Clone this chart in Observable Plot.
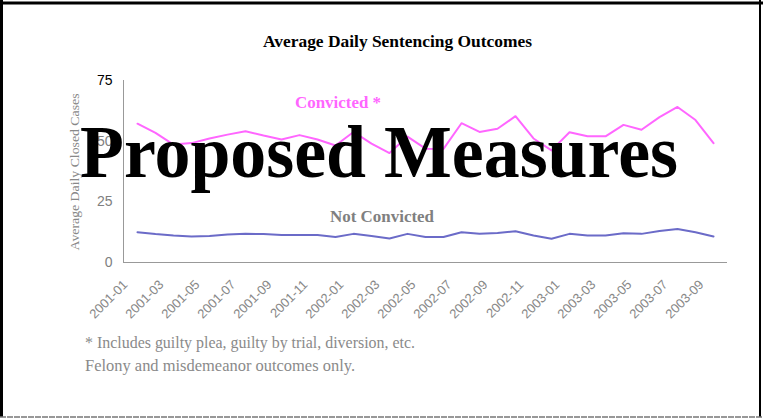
<!DOCTYPE html>
<html>
<head>
<meta charset="utf-8">
<script src="https://cdn.jsdelivr.net/npm/d3@7"></script>
<script src="https://cdn.jsdelivr.net/npm/@observablehq/plot@0.6"></script>
<style>
  html, body { margin: 0; padding: 0; background: #fff; }
  svg { display: block; }
</style>
</head>
<body>
<div id="chart"></div>
<script>
const months = ["2001-01","2001-02","2001-03","2001-04","2001-05","2001-06","2001-07","2001-08","2001-09","2001-10","2001-11","2001-12",
  "2002-01","2002-02","2002-03","2002-04","2002-05","2002-06","2002-07","2002-08","2002-09","2002-10","2002-11","2002-12",
  "2003-01","2003-02","2003-03","2003-04","2003-05","2003-06","2003-07","2003-08","2003-09"];
const convicted = [57.2,53.4,48.6,49.2,51.1,52.7,54.1,52.3,50.7,52.5,50.7,48.2,53.8,49.0,45.1,51.9,46.9,46.8,57.4,53.8,55.1,60.3,51.1,46.2,53.7,52.0,52.0,56.7,54.7,59.9,64.1,58.7,49.2];
const notConvicted = [12.5,11.7,11.1,10.7,10.9,11.5,11.8,11.7,11.3,11.3,11.3,10.5,11.8,10.9,9.9,11.8,10.5,10.5,12.5,11.8,12.2,12.9,11.1,9.8,11.8,11.1,11.1,12.1,11.8,13.0,13.8,12.5,10.7];
const tickLabels = months.filter((d, i) => i % 2 === 0);
const yTicks = [0, 25, 50, 75];

const W = 763, H = 419;
const sans = "Liberation Sans, Arial, sans-serif";
const serif = "Liberation Serif, Times New Roman, serif";

const svg = Plot.plot({
  width: W,
  height: H,
  marginLeft: 123,
  marginRight: 36,
  marginTop: 80,
  marginBottom: 157,
  style: { background: "#fff", fontFamily: sans },
  x: { type: "point", domain: months, padding: 0.5, axis: null },
  y: { domain: [0, 75], axis: null },
  marks: [
    Plot.frame({ anchor: "left", stroke: "#999" }),
    Plot.ruleY([0], { stroke: "#999" }),
    Plot.text(yTicks, {
      y: d => d, text: d => String(d), frameAnchor: "left", dx: -11, textAnchor: "end",
      fontSize: 14, fontFamily: sans, fill: d => d === 75 ? "#000" : "#808080"
    }),
    Plot.text(tickLabels, {
      x: d => d, text: d => d, frameAnchor: "bottom", dx: -12, dy: 20, rotate: -45,
      textAnchor: "end", lineAnchor: "middle", fontSize: 13, fontFamily: sans, fill: "#888"
    }),
    Plot.line(convicted, { x: (d, i) => months[i], y: d => d, stroke: "#FF66FF", strokeWidth: 2 }),
    Plot.line(notConvicted, { x: (d, i) => months[i], y: d => d, stroke: "#6B6BC8", strokeWidth: 2 })
  ]
});

document.getElementById("chart").appendChild(svg);
const s = d3.select(svg);

// outer frame
s.append("line").attr("x1", 0).attr("x2", W).attr("y1", 3).attr("y2", 3).attr("stroke", "#000").attr("stroke-width", 3);
s.append("line").attr("x1", 1.5).attr("x2", 1.5).attr("y1", 0).attr("y2", 417).attr("stroke", "#000").attr("stroke-width", 3);
s.append("line").attr("x1", 760).attr("x2", 760).attr("y1", 0).attr("y2", 417).attr("stroke", "#000").attr("stroke-width", 2);
s.append("line").attr("x1", 0).attr("x2", W).attr("y1", 417).attr("y2", 417).attr("stroke", "#777").attr("stroke-width", 1.5).attr("stroke-dasharray", "6,1");

function txt(str, x, y, opts) {
  const t = s.append("text").attr("x", x).attr("y", y).text(str)
    .attr("font-family", opts.family || serif)
    .attr("font-size", opts.size)
    .attr("fill", opts.fill || "#000")
    .attr("text-anchor", opts.anchor || "start");
  if (opts.weight) t.attr("font-weight", opts.weight);
  if (opts.len) t.attr("textLength", opts.len).attr("lengthAdjust", "spacingAndGlyphs");
  if (opts.transform) t.attr("transform", opts.transform);
  return t;
}

txt("Average Daily Sentencing Outcomes", 263, 47, { size: 17, weight: "bold", len: 269 });
txt("Average Daily Closed Cases", 0, 0, { size: 13, fill: "#888", anchor: "middle", len: 157, transform: "translate(79,172) rotate(-90)" });
txt("Convicted *", 295, 108, { size: 16, weight: "bold", fill: "#FF66FF", len: 86 });
txt("Not Convicted", 330, 221.5, { size: 16.5, weight: "bold", fill: "#808080", len: 104 });
txt("* Includes guilty plea, guilty by trial, diversion, etc.", 85, 348, { size: 16.5, fill: "#8a8a8a", len: 330 });
txt("Felony and misdemeanor outcomes only.", 85, 371, { size: 16.5, fill: "#8a8a8a", len: 270 });
txt("Proposed Measures", 80, 177, { size: 75, weight: "bold", fill: "#000", len: 598 });
</script>
</body>
</html>
